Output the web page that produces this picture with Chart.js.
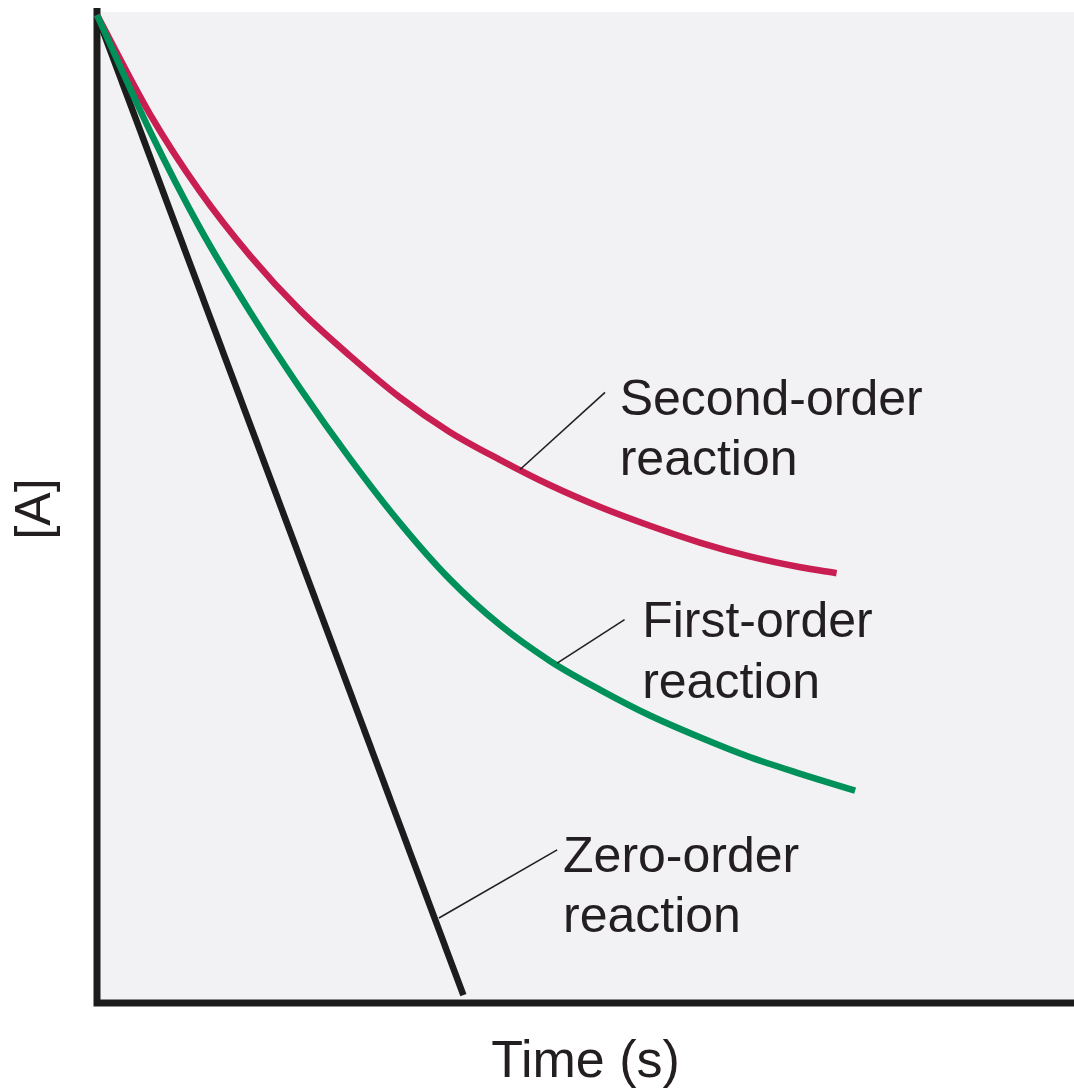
<!DOCTYPE html>
<html>
<head>
    <title>Reaction order: [A] vs time</title>
    <script src="https://cdn.jsdelivr.net/npm/chart.js"></script>
    <style>
        body {
            margin: 0;
            padding: 0;
            background: #fff;
            overflow: hidden;
        }

        #chart-container {
            width: 1074px;
            height: 1091px;
        }
    </style>
</head>
<body>
    <div id="chart-container">
        <canvas id="myChart"></canvas>
    </div>

    <script>
        // values (time in s, [A] as fraction of start)
        const timeZero = [0, 3.75];
        const concZero = [1, 0.008];

        const timeFirst = [0, 0.54, 1.05, 1.57, 2.08, 2.59, 3.10, 3.61, 4.12, 4.64, 5.15, 5.66, 6.17, 6.68, 7.20, 7.76];
        const concFirst = [1, 0.883, 0.785, 0.699, 0.622, 0.551, 0.486, 0.429, 0.383, 0.346, 0.317, 0.291, 0.269, 0.249, 0.232, 0.215];

        const timeSecond = [0, 0.54, 1.05, 1.57, 2.08, 2.59, 3.10, 3.61, 4.12, 4.64, 5.15, 5.66, 6.17, 6.68, 7.20, 7.57];
        const concSecond = [1, 0.900, 0.822, 0.756, 0.701, 0.655, 0.613, 0.578, 0.550, 0.524, 0.502, 0.483, 0.466, 0.452, 0.441, 0.435];

        const seriesNames = ['Zero-order reaction', 'First-order reaction', 'Second-order reaction'];

        // callouts: leader line from the curve to the label, in data units
        const callouts = [
            { lines: ['Zero-order', 'reaction'], from: [3.50, 0.086], to: [4.71, 0.155], textX: 4.77, base: [0.133, 0.072] },
            { lines: ['First-order', 'reaction'], from: [4.71, 0.344], to: [5.40, 0.388], textX: 5.58, base: [0.370, 0.309] },
            { lines: ['Second-order', 'reaction'], from: [4.33, 0.540], to: [5.20, 0.618], textX: 5.35, base: [0.595, 0.534] }
        ];

        const toPoints = (xs, ys) => xs.map((x, i) => ({ x: x, y: ys[i] }));

        const fontFamily = '"Liberation Sans", Arial, Helvetica, sans-serif';
        const inkColor = '#231f20';

        const plotDecor = {
            id: 'plotDecor',
            beforeDraw(chart) {
                const { ctx, chartArea: a } = chart;
                ctx.save();
                ctx.fillStyle = '#f2f2f4';
                ctx.fillRect(a.left, a.top - 3, a.right - a.left, a.bottom - a.top + 3);
                ctx.restore();
            },
            beforeDatasetsDraw(chart) {
                const { ctx, chartArea: a } = chart;
                ctx.save();
                ctx.strokeStyle = '#1c1c1c';
                ctx.lineWidth = 7;
                ctx.beginPath();
                ctx.moveTo(a.left, a.top - 7);
                ctx.lineTo(a.left, a.bottom + 3.5);
                ctx.moveTo(a.left - 3.5, a.bottom);
                ctx.lineTo(a.right, a.bottom);
                ctx.stroke();
                ctx.restore();
            },
            afterDatasetsDraw(chart) {
                const { ctx } = chart;
                const xs = chart.scales.x;
                const ys = chart.scales.y;
                ctx.save();
                ctx.strokeStyle = inkColor;
                ctx.lineWidth = 1.6;
                ctx.fillStyle = inkColor;
                ctx.font = '50px ' + fontFamily;
                ctx.textBaseline = 'alphabetic';
                ctx.textAlign = 'left';
                callouts.forEach(c => {
                    ctx.beginPath();
                    ctx.moveTo(xs.getPixelForValue(c.from[0]), ys.getPixelForValue(c.from[1]));
                    ctx.lineTo(xs.getPixelForValue(c.to[0]), ys.getPixelForValue(c.to[1]));
                    ctx.stroke();
                    c.lines.forEach((txt, i) => {
                        ctx.fillText(txt, xs.getPixelForValue(c.textX), ys.getPixelForValue(c.base[i]));
                    });
                });
                ctx.restore();
            }
        };

        const lineStyle = {
            pointRadius: 0,
            pointHoverRadius: 0,
            fill: false,
            clip: false,
            cubicInterpolationMode: 'monotone'
        };

        // dataset 0 is painted last (on top), as the green curve is in the picture
        new Chart(document.getElementById('myChart'), {
            type: 'line',
            data: {
                datasets: [
                    Object.assign({
                        label: seriesNames[1],
                        data: toPoints(timeFirst, concFirst),
                        borderColor: '#00915a',
                        borderWidth: 6.5
                    }, lineStyle),
                    Object.assign({
                        label: seriesNames[2],
                        data: toPoints(timeSecond, concSecond),
                        borderColor: '#c81e52',
                        borderWidth: 6.5
                    }, lineStyle),
                    Object.assign({}, lineStyle, {
                        label: seriesNames[0],
                        data: toPoints(timeZero, concZero),
                        borderColor: '#1c1c1c',
                        borderWidth: 6.5,
                        cubicInterpolationMode: 'default',
                        tension: 0
                    })
                ]
            },
            options: {
                responsive: true,
                maintainAspectRatio: false,
                animation: false,
                layout: { padding: { top: 15, right: 0, bottom: 0, left: 0 } },
                plugins: {
                    legend: { display: false },
                    tooltip: { enabled: false }
                },
                scales: {
                    x: {
                        type: 'linear',
                        min: 0,
                        max: 10,
                        ticks: { display: false },
                        grid: { display: false, drawTicks: false },
                        border: { display: false },
                        title: {
                            display: true,
                            text: 'Time (s)',
                            color: inkColor,
                            font: { family: fontFamily, size: 52, lineHeight: 1 },
                            padding: { top: 34, bottom: 2 }
                        }
                    },
                    y: {
                        type: 'linear',
                        min: 0,
                        max: 1,
                        ticks: { display: false },
                        grid: { display: false, drawTicks: false },
                        border: { display: false },
                        title: {
                            display: true,
                            text: '[A]',
                            color: inkColor,
                            font: { family: fontFamily, size: 50, lineHeight: 1 },
                            padding: { top: 11, bottom: 36 }
                        }
                    }
                }
            },
            plugins: [plotDecor]
        });
    </script>
</body>
</html>
